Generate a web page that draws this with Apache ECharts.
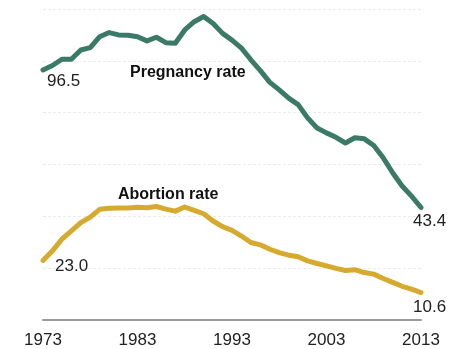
<!DOCTYPE html>
<html>
<head>
<meta charset="utf-8">
<script src="https://cdn.jsdelivr.net/npm/echarts@6/dist/echarts.min.js"></script>
<style>
  html, body { margin: 0; padding: 0; background: #fff; }
  #chart { width: 449px; height: 349px; }
</style>
</head>
<body>
<div id="chart"></div>
<script>
// Years 1973–2013
const years = [];
for (let y = 1973; y <= 2013; y++) years.push(String(y));

// Pregnancies per 1,000 women aged 15-19
const pregnancyRate = [
  96.5, 98.2, 100.6, 100.6, 104.2, 105.1, 109.3, 110.9, 110.0, 109.9,
  109.3, 107.7, 109.1, 107.0, 106.8, 111.9, 115.1, 117.1, 114.4, 110.6,
  108.0, 104.9, 100.4, 96.2, 91.7, 88.8, 85.6, 83.1, 78.0, 74.1,
  72.2, 70.5, 68.3, 70.3, 69.9, 67.3, 62.6, 56.8, 51.7, 47.8,
  43.4
];

// Abortions per 1,000 women aged 15-19
const abortionRate = [
  23.0, 26.7, 31.2, 34.4, 37.6, 39.7, 42.7, 43.1, 43.2, 43.2,
  43.5, 43.3, 43.8, 42.8, 42.0, 43.6, 42.3, 41.0, 38.2, 36.0,
  34.6, 32.4, 29.9, 29.0, 27.3, 26.0, 25.0, 24.4, 22.8, 21.8,
  20.9, 19.9, 19.1, 19.4, 18.3, 17.7, 16.0, 14.5, 13.0, 11.9,
  10.6
];

const yTicks = [0, 20, 40, 60, 80, 100, 120];

const GREEN = '#3a7a66';
const GOLD = '#d6aa2e';
const FONT = '"Liberation Sans", Arial, sans-serif';

const chart = echarts.init(document.getElementById('chart'), null, { renderer: 'canvas' });

chart.setOption({
  animation: false,
  backgroundColor: '#ffffff',
  grid: { left: 43, right: 28, top: 9, bottom: 28, containLabel: false },
  xAxis: {
    type: 'category',
    data: years,
    boundaryGap: false,
    axisLine: { show: true, lineStyle: { color: '#9a9a9a', width: 2 } },
    axisTick: { show: false },
    splitLine: { show: false },
    axisLabel: {
      interval: 9,
      margin: 12,
      color: '#222',
      fontFamily: FONT,
      fontSize: 17,
      showMaxLabel: true,
      showMinLabel: true
    }
  },
  yAxis: {
    type: 'value',
    min: yTicks[0],
    max: yTicks[yTicks.length - 1],
    interval: 20,
    axisLine: { show: false },
    axisTick: { show: false },
    axisLabel: { show: false },
    splitLine: { show: true, lineStyle: { color: '#ececec', width: 1, type: [3, 2] } }
  },
  series: [
    {
      name: 'Pregnancy rate',
      type: 'line',
      data: pregnancyRate,
      showSymbol: false,
      symbol: 'none',
      lineStyle: { color: GREEN, width: 5, join: 'round', cap: 'round' },
      z: 3
    },
    {
      name: 'Abortion rate',
      type: 'line',
      data: abortionRate,
      showSymbol: false,
      symbol: 'none',
      lineStyle: { color: GOLD, width: 5, join: 'round', cap: 'round' },
      z: 3
    }
  ]
});

// Text annotations placed in data coordinates
function at(yearIdx, value) {
  return chart.convertToPixel({ gridIndex: 0 }, [yearIdx, value]);
}
const last = years.length - 1;
const p0 = at(0, pregnancyRate[0]);
const p1 = at(last, pregnancyRate[last]);
const a0 = at(0, abortionRate[0]);
const a1 = at(last, abortionRate[last]);

function valueText(pt, dx, dy, txt) {
  return {
    type: 'text',
    x: pt[0] + dx,
    y: pt[1] + dy,
    style: {
      text: txt,
      fill: '#222',
      font: '17px ' + FONT,
      align: 'left',
      verticalAlign: 'middle'
    },
    z: 10
  };
}

chart.setOption({
  graphic: [
    valueText(p0, 4, 11, pregnancyRate[0].toFixed(1)),
    valueText(a0, 12, 6, abortionRate[0].toFixed(1)),
    valueText(p1, -8, 14, pregnancyRate[last].toFixed(1)),
    valueText(a1, -8, 15, abortionRate[last].toFixed(1)),
    {
      type: 'text', x: 130, y: 73,
      style: { text: 'Pregnancy rate', fill: '#111', font: 'bold 16px ' + FONT, align: 'left', verticalAlign: 'middle' },
      z: 10
    },
    {
      type: 'text', x: 118, y: 195,
      style: { text: 'Abortion rate', fill: '#111', font: 'bold 16px ' + FONT, align: 'left', verticalAlign: 'middle' },
      z: 10
    }
  ]
});
</script>
</body>
</html>
